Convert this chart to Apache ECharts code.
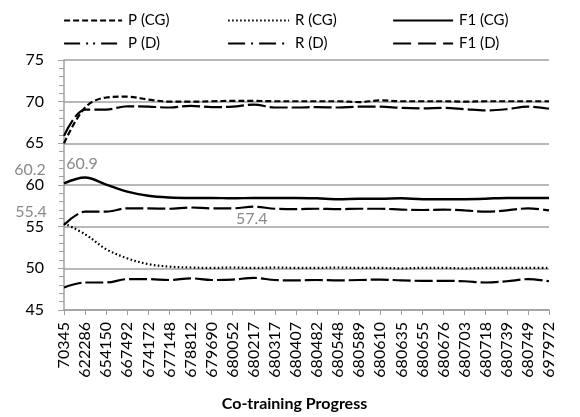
<!DOCTYPE html>
<html>
<head>
<meta charset="utf-8">
<script src="https://cdn.jsdelivr.net/npm/echarts@6/dist/echarts.min.js"></script>
<style>
  html, body { margin: 0; padding: 0; background: #fff; }
  #chart { width: 580px; height: 417px; }
</style>
</head>
<body>
<div id="chart"></div>
<script>
var categories = ["70345", "622286", "654150", "667492", "674172", "677148", "678812", "679690",
  "680052", "680217", "680317", "680407", "680482", "680548", "680589", "680610",
  "680635", "680655", "680676", "680703", "680718", "680739", "680749", "697972"];

var pCG  = [65.0, 69.3, 70.5, 70.6, 70.25, 70.0, 70.0, 70.05, 70.1, 70.1, 70.05, 70.05,
            70.05, 70.05, 69.95, 70.15, 70.05, 70.05, 70.05, 70.0, 70.05, 70.05, 70.05, 70.05];
var rCG  = [55.4, 54.1, 52.3, 51.2, 50.5, 50.2, 50.1, 50.05, 50.1, 50.05, 50.1, 50.05,
            50.05, 50.1, 50.05, 50.05, 50.0, 50.05, 50.05, 50.0, 50.05, 50.05, 50.05, 50.05];
var f1CG = [60.2, 60.9, 60.05, 59.2, 58.7, 58.5, 58.45, 58.45, 58.4, 58.45, 58.45, 58.45,
            58.4, 58.3, 58.35, 58.35, 58.4, 58.3, 58.3, 58.3, 58.35, 58.45, 58.45, 58.45];
var pD   = [65.9, 69.05, 69.05, 69.45, 69.4, 69.3, 69.5, 69.35, 69.4, 69.65, 69.3, 69.3,
            69.35, 69.3, 69.4, 69.4, 69.25, 69.2, 69.25, 69.1, 68.95, 69.1, 69.4, 69.15];
var rD   = [47.7, 48.3, 48.3, 48.7, 48.7, 48.6, 48.8, 48.6, 48.65, 48.85, 48.6, 48.55,
            48.6, 48.55, 48.6, 48.65, 48.55, 48.5, 48.5, 48.45, 48.3, 48.45, 48.7, 48.45];
var f1D  = [55.2, 56.8, 56.8, 57.2, 57.2, 57.15, 57.3, 57.2, 57.2, 57.4, 57.15, 57.1,
            57.15, 57.1, 57.15, 57.15, 57.05, 57.0, 57.05, 56.95, 56.8, 56.95, 57.2, 56.95];

var yTicks = [45, 50, 55, 60, 65, 70, 75];

var FONT = "Lato";
var GRAY = "#8a8a8a";
var CLEAR = "rgba(0,0,0,0)";

// gray data labels, keyed by point index
function withLabels(values, labels) {
  return values.map(function (v, i) {
    if (!labels[i]) return v;
    return {
      value: v,
      label: {
        show: true,
        position: labels[i].pos,
        offset: labels[i].offset,
        color: GRAY,
        fontFamily: FONT,
        fontSize: 16,
        formatter: function (p) { return p.value.toFixed(1); }
      }
    };
  });
}

function lineSeries(name, values, dash, width) {
  return {
    name: name,
    type: "line",
    data: values,
    symbol: "circle",
    symbolSize: 1,
    showSymbol: true,
    smooth: 0.35,
    z: 3,
    lineStyle: { color: "#000", width: width || 2.2, type: dash, cap: "butt" },
    itemStyle: { color: CLEAR, borderWidth: 0 }
  };
}

function legendItem(name, left, top, dash, w) {
  return {
    data: [name],
    left: left,
    top: top,
    itemWidth: w,
    itemHeight: 14,
    itemGap: 0,
    selectedMode: false,
    textStyle: { fontFamily: FONT, fontSize: 15, color: "#000", padding: [0, 0, 0, 1] },
    itemStyle: { color: CLEAR, borderColor: CLEAR, borderWidth: 0 },
    lineStyle: { type: dash, width: 2.2, color: "#000", cap: "butt" }
  };
}

var chart = echarts.init(document.getElementById("chart"));
var option = {
  backgroundColor: "#fff",
  animation: false,
  legend: [
    legendItem("P (CG)", 58, 8, [6, 3], 58),
    legendItem("R (CG)", 222, 8, [1.6, 2.4], 61),
    legendItem("F1 (CG)", 387, 8, "solid", 60),
    legendItem("P (D)", 58, 31, [16, 6, 2, 5, 2, 6], 58),
    legendItem("R (D)", 222, 31, [17, 6, 2, 6], 61),
    legendItem("F1 (D)", 387, 31, [18, 7], 60)
  ],
  grid: { left: 64, right: 31, top: 60, bottom: 101 },
  xAxis: {
    type: "category",
    data: categories,
    boundaryGap: false,
    name: "Co-training Progress",
    nameLocation: "middle",
    nameGap: 86,
    nameTextStyle: { fontFamily: FONT, fontSize: 16, fontWeight: "bold", color: "#000", padding: [0, 24, 0, 0] },
    axisLine: { lineStyle: { color: "#a0a0a0", width: 1.5 } },
    axisTick: { show: true, alignWithLabel: true, length: 5, lineStyle: { color: "#a0a0a0" } },
    axisLabel: { rotate: 90, margin: 12, interval: 0, fontFamily: FONT, fontSize: 16, color: "#000" },
    splitLine: { show: false }
  },
  yAxis: {
    type: "value",
    min: yTicks[0],
    max: yTicks[yTicks.length - 1],
    interval: 5,
    axisLine: { show: true, lineStyle: { color: "#a0a0a0", width: 1.5 } },
    axisTick: { show: true, length: 6, lineStyle: { color: "#a0a0a0" } },
    minorTick: { show: true, splitNumber: 5, length: 5, lineStyle: { color: "#a0a0a0" } },
    axisLabel: { margin: 20, fontFamily: FONT, fontSize: 16, color: "#000" },
    splitLine: { show: true, lineStyle: { color: "#a0a0a0", width: 1.5 } }
  },
  series: [
    lineSeries("P (CG)", pCG, [6, 3]),
    lineSeries("R (CG)", withLabels(rCG, { 0: { pos: "top", offset: [-33, 2] } }), [1.6, 2.4]),
    lineSeries("F1 (CG)", withLabels(f1CG, {
      0: { pos: "top", offset: [-34, 0] },
      1: { pos: "top", offset: [-3, 0] }
    }), "solid", 2.5),
    lineSeries("P (D)", pD, [18, 4]),
    lineSeries("R (D)", rD, [18, 4]),
    lineSeries("F1 (D)", withLabels(f1D, { 9: { pos: "bottom", offset: [-2, -1] } }), [18, 4])
  ]
};
chart.setOption(option);
</script>
</body>
</html>
